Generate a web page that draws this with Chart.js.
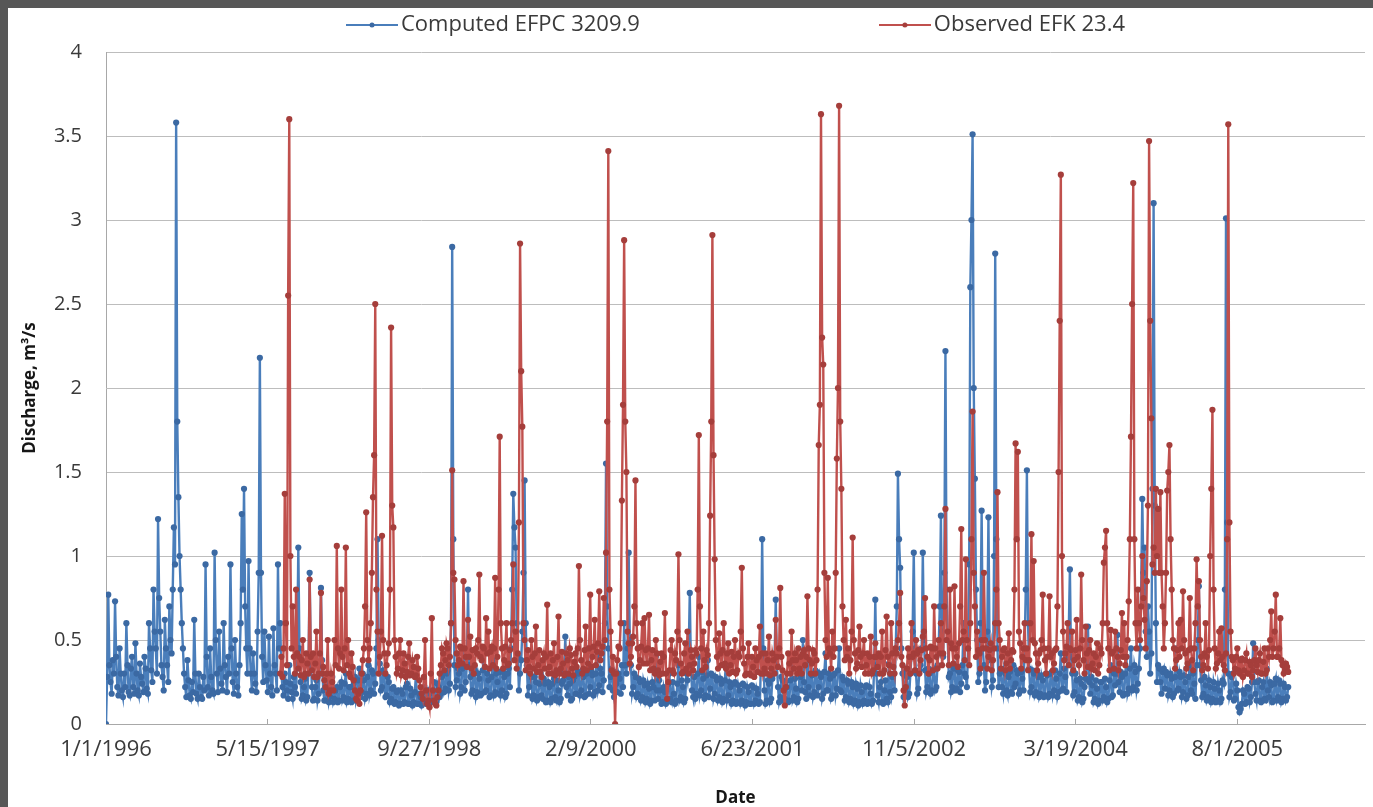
<!DOCTYPE html>
<html>
<head>
<meta charset="utf-8">
<title>Discharge: computed EFPC 3209.9 vs observed EFK 23.4</title>
<script src="https://cdn.jsdelivr.net/npm/chart.js@4/dist/chart.umd.min.js"></script>
<style>
  html, body { margin: 0; padding: 0; width: 1373px; height: 807px; overflow: hidden; background: #575757; }
  #panel { position: absolute; left: 8px; top: 8px; width: 1365px; height: 799px; background: #ffffff; }
  #chart { display: block; }
</style>
</head>
<body>
<div id="panel"><canvas id="chart" width="1365" height="799"></canvas></div>
<script>
// Discharge samples (m3/s). Each year has a weekly array (7-day steps from 1/1/1996)
// and a mid-week array holding the sample taken 3.5 days after each weekly one.
const SERIES_START = '1/1/1996';
const STEP_DAYS = 7;
const COMPUTED_FIRST_WEEK = 0;    // computed record begins on the first sample date
const OBSERVED_FIRST_WEEK = 77;   // observed record begins in late June 1997
const X_MAX_DAY = 3895;

const tickLabels = ['1/1/1996', '5/15/1997', '9/27/1998', '2/9/2000', '6/23/2001', '11/5/2002', '3/19/2004', '8/1/2005'];

// ---- Computed EFPC 3209.9 ----
const computed1996 = [0.00,0.77,0.25,0.38,0.73,0.22,0.45,0.20,0.30,0.60,
  0.19,0.33,0.22,0.48,0.20,0.36,0.24,0.40,0.21,0.60,
  0.32,0.80,0.45,1.22,0.55,0.28,0.62,0.35,0.70,0.42,
  1.17,3.58,1.35,0.80,0.45,0.22,0.38,0.17,0.25,0.62,
  0.18,0.30,0.16,0.28,0.95,0.22,0.45,0.20,1.02,0.30,
  0.55,0.24];
const computedMid1996 = [0.28,0.35,0.18,0.30,0.40,0.17,0.30,0.16,0.22,0.35,
  0.17,0.40,0.18,0.30,0.17,0.28,0.19,0.33,0.18,0.45,
  0.25,0.55,0.30,0.75,0.35,0.20,0.45,0.25,0.50,0.80,
  0.95,1.80,1.00,0.60,0.30,0.16,0.26,0.15,0.19,0.30,
  0.15,0.22,0.15,0.20,0.40,0.17,0.28,0.18,0.50,0.19,
  0.33,0.20];
const computed1997 = [0.60,0.28,0.40,0.95,0.25,0.50,0.22,0.35,1.25,1.40,
  0.45,0.97,0.30,0.42,0.24,0.55,2.18,0.40,0.55,0.26,
  0.52,0.22,0.57,0.30,0.95,0.60,0.22,0.30,0.20,0.35,
  0.19,0.28,0.18,1.05,0.25,0.17,0.27,0.16,0.90,0.22,
  0.15,0.26,0.18,0.81,0.20,0.14,0.24,0.16,0.28,0.15,
  0.22,0.14];
const computedMid1997 = [0.35,0.19,0.30,0.45,0.18,0.30,0.17,0.60,0.80,0.70,
  0.30,0.45,0.20,0.30,0.19,0.90,0.90,0.25,0.35,0.19,
  0.30,0.17,0.35,0.20,0.45,0.30,0.17,0.25,0.15,0.24,
  0.15,0.22,0.45,0.45,0.15,0.22,0.14,0.35,0.40,0.14,
  0.22,0.14,0.35,0.38,0.14,0.21,0.13,0.22,0.13,0.20,
  0.13,0.22];
const computed1998 = [0.25,0.16,0.30,0.15,0.22,0.14,0.28,0.17,0.33,0.19,
  0.26,0.18,0.35,0.20,0.30,0.24,1.10,0.36,0.22,0.30,
  0.17,0.25,0.15,0.22,0.13,0.20,0.12,0.18,0.13,0.24,
  0.12,0.17,0.13,0.30,0.12,0.16,0.13,0.20,0.12,0.18,
  0.14,0.25,0.13,0.22,0.18,0.30,0.21,0.32,0.24,2.84,
  0.35,0.26];
const computedMid1998 = [0.14,0.24,0.13,0.22,0.13,0.24,0.14,0.26,0.16,0.30,
  0.15,0.28,0.17,0.32,0.18,0.45,0.50,0.20,0.32,0.16,
  0.28,0.13,0.21,0.12,0.19,0.11,0.20,0.12,0.22,0.12,
  0.21,0.11,0.19,0.12,0.18,0.11,0.22,0.12,0.20,0.13,
  0.20,0.13,0.24,0.16,0.28,0.19,0.30,0.20,0.60,1.10,
  0.22,0.33];
const computed1999 = [0.30,0.22,0.45,0.25,0.80,0.28,0.20,0.32,0.19,0.27,
  0.18,0.42,0.20,0.26,0.17,0.38,0.19,0.25,0.31,0.20,
  0.28,0.18,0.33,0.45,1.37,1.05,0.40,0.30,0.55,1.45,
  0.35,0.22,0.28,0.17,0.25,0.16,0.36,0.15,0.24,0.14,
  0.22,0.15,0.27,0.14,0.20,0.15,0.26,0.52,0.17,0.24,
  0.15,0.28];
const computedMid1999 = [0.18,0.33,0.20,0.35,0.35,0.18,0.30,0.16,0.30,0.17,
  0.32,0.19,0.30,0.16,0.28,0.17,0.30,0.18,0.17,0.31,
  0.16,0.30,0.22,0.80,1.17,0.60,0.20,0.38,0.90,0.60,
  0.17,0.30,0.15,0.28,0.14,0.24,0.17,0.27,0.13,0.25,
  0.13,0.24,0.16,0.26,0.13,0.24,0.32,0.22,0.28,0.14,
  0.26,0.18];
const computed2000 = [0.18,0.30,0.20,0.28,0.17,0.45,0.22,0.29,0.19,0.40,
  0.23,0.30,0.26,1.55,0.45,0.28,0.20,0.31,0.19,0.27,
  0.35,0.60,0.30,1.02,0.35,0.22,0.28,0.18,0.25,0.16,
  0.23,0.15,0.21,0.14,0.22,0.40,0.15,0.20,0.13,0.19,
  0.14,0.30,0.13,0.18,0.14,0.35,0.16,0.22,0.15,0.26,
  0.78,0.20];
const computedMid2000 = [0.31,0.17,0.32,0.16,0.30,0.18,0.32,0.17,0.30,0.20,
  0.33,0.19,0.60,0.70,0.22,0.33,0.16,0.24,0.30,0.18,
  0.22,0.35,0.45,0.50,0.18,0.30,0.16,0.27,0.14,0.26,
  0.13,0.24,0.12,0.25,0.14,0.20,0.26,0.12,0.22,0.12,
  0.24,0.15,0.25,0.12,0.24,0.14,0.26,0.13,0.30,0.40,
  0.35,0.16];
const computed2001 = [0.28,0.18,0.40,0.20,0.27,0.17,0.38,0.21,0.29,0.18,
  0.26,0.16,0.24,0.15,0.36,0.17,0.22,0.14,0.25,0.13,
  0.20,0.14,0.23,0.13,0.19,0.12,0.22,0.14,0.18,0.13,
  1.10,0.20,0.14,0.24,0.15,0.30,0.74,0.22,0.16,0.26,
  0.15,0.22,0.14,0.35,0.16,0.21,0.15,0.28,0.50,0.19,
  0.40,0.17];
const computedMid2001 = [0.15,0.30,0.17,0.31,0.15,0.29,0.16,0.30,0.15,0.28,
  0.14,0.27,0.13,0.26,0.14,0.25,0.12,0.24,0.12,0.23,
  0.12,0.24,0.11,0.22,0.12,0.23,0.12,0.21,0.12,0.40,
  0.45,0.12,0.26,0.13,0.27,0.40,0.35,0.13,0.28,0.14,
  0.25,0.13,0.26,0.14,0.27,0.13,0.30,0.20,0.25,0.15,
  0.22,0.30];
const computed2002 = [0.29,0.19,0.31,0.22,0.28,0.18,0.42,0.20,0.27,0.17,
  0.30,0.21,0.45,0.19,0.26,0.16,0.24,0.15,0.22,0.14,
  0.21,0.13,0.19,0.14,0.23,0.13,0.18,0.14,0.74,0.17,
  0.22,0.13,0.20,0.15,0.36,0.16,0.30,0.45,1.49,0.93,
  0.30,0.20,0.28,0.18,0.40,1.02,0.30,0.21,0.35,1.02,
  0.32,0.22];
const computedMid2002 = [0.16,0.32,0.17,0.30,0.15,0.31,0.20,0.30,0.15,0.29,
  0.17,0.32,0.20,0.28,0.14,0.26,0.13,0.25,0.12,0.24,
  0.11,0.23,0.12,0.22,0.12,0.22,0.12,0.35,0.30,0.13,
  0.25,0.12,0.26,0.13,0.19,0.28,0.20,0.70,1.10,0.45,
  0.16,0.31,0.16,0.30,0.55,0.45,0.18,0.32,0.45,0.50,
  0.19,0.33];
const computed2003 = [0.30,0.20,0.33,0.22,0.45,1.24,0.40,2.22,0.50,0.30,
  0.22,0.35,0.21,0.31,0.24,0.60,0.28,0.45,2.60,3.51,
  1.46,0.50,0.30,1.27,0.35,0.25,1.23,0.38,0.26,2.80,
  0.45,0.30,0.22,0.33,0.20,0.28,0.19,0.35,0.24,0.30,
  0.20,0.27,0.45,1.51,0.33,0.22,0.30,0.19,0.28,0.18,
  0.26,0.17];
const computedMid2003 = [0.18,0.32,0.20,0.35,0.70,0.55,0.90,0.80,0.28,0.19,
  0.33,0.20,0.32,0.19,0.35,0.30,0.22,0.95,3.00,2.00,
  0.80,0.25,0.60,0.45,0.20,0.55,0.45,0.22,1.00,1.10,
  0.22,0.32,0.18,0.30,0.17,0.31,0.18,0.22,0.32,0.18,
  0.31,0.20,0.80,0.60,0.19,0.32,0.17,0.30,0.16,0.29,
  0.16,0.30];
const computed2004 = [0.29,0.18,0.31,0.20,0.27,0.19,0.42,0.21,0.28,0.40,
  0.92,0.30,0.19,0.26,0.16,0.24,0.15,0.27,0.58,0.18,
  0.23,0.15,0.21,0.14,0.25,0.16,0.22,0.15,0.35,0.17,
  0.23,0.53,0.19,0.28,0.18,0.40,0.21,0.45,0.22,0.31,
  0.24,0.45,1.34,1.05,0.40,0.55,0.42,3.10,0.60,0.35,
  0.25,0.31];
const computedMid2004 = [0.16,0.30,0.17,0.32,0.16,0.30,0.20,0.33,0.19,0.55,
  0.40,0.17,0.30,0.14,0.27,0.13,0.22,0.35,0.25,0.28,
  0.13,0.26,0.12,0.25,0.14,0.27,0.13,0.26,0.16,0.30,
  0.30,0.25,0.31,0.17,0.30,0.18,0.33,0.20,0.35,0.20,
  0.33,0.80,0.90,0.55,0.70,0.30,1.40,1.30,0.25,0.33,
  0.18,0.33];
const computed2005 = [0.21,0.29,0.20,0.27,0.18,0.45,0.21,0.28,0.19,0.25,
  0.17,0.35,0.18,0.24,0.35,0.82,0.26,0.18,0.23,0.16,
  0.22,0.15,0.21,0.14,0.20,0.15,0.24,3.01,0.30,0.19,
  0.30,0.15,0.20,0.07,0.12,0.18,0.13,0.21,0.16,0.48,
  0.18,0.25,0.14,0.22,0.15,0.33,0.16,0.23,0.14,0.27,
  0.16,0.24,0.15,0.22,0.16];
const computedMid2005 = [0.31,0.17,0.30,0.16,0.28,0.20,0.31,0.16,0.29,0.15,
  0.28,0.20,0.30,0.15,0.50,0.35,0.16,0.28,0.14,0.26,
  0.13,0.25,0.13,0.24,0.13,0.26,0.80,1.20,0.16,0.28,
  0.14,0.24,0.10,0.09,0.20,0.12,0.22,0.13,0.25,0.25,
  0.14,0.26,0.13,0.25,0.14,0.20,0.25,0.13,0.24,0.14,
  0.26,0.13,0.24,0.14,0.22];

// ---- Observed EFK 23.4 ----
const observed1997 = [0.30,0.28,1.37,0.35,3.60,0.45,0.40,0.80,0.33,0.29,
  0.50,0.30,0.36,0.86,0.32,0.28,0.55,0.30,0.78,0.34,
  0.22,0.50,0.20,0.25,0.50,1.06,0.33];
const observedMid1997 = [0.40,0.45,0.60,2.55,1.00,0.70,0.30,0.42,0.40,0.38,
  0.28,0.42,0.30,0.40,0.42,0.36,0.28,0.42,0.30,0.26,
  0.30,0.18,0.30,0.20,0.35,0.45,0.42];
const observed1998 = [0.80,0.32,1.05,0.50,0.28,0.34,0.20,0.14,0.12,0.30,
  0.45,1.26,0.38,0.60,1.35,2.50,0.55,0.40,1.12,0.42,
  0.35,0.48,2.36,1.17,0.40,0.33,0.50,0.32,0.36,0.31,
  0.48,0.30,0.34,0.29,0.33,0.22,0.15,0.50,0.12,0.10,
  0.63,0.14,0.11,0.20,0.35,0.42,0.38,0.45,0.40,1.51,
  0.86,0.42];
const observedMid1998 = [0.40,0.45,0.35,0.30,0.42,0.26,0.15,0.18,0.20,0.38,
  0.70,0.50,0.45,0.90,1.60,0.80,0.30,0.55,0.50,0.30,
  0.42,0.80,1.30,0.50,0.30,0.42,0.29,0.42,0.28,0.40,
  0.29,0.38,0.28,0.40,0.26,0.18,0.28,0.20,0.14,0.30,
  0.20,0.12,0.16,0.30,0.45,0.32,0.48,0.35,0.60,0.90,
  0.50,0.35];
const observed1999 = [0.38,0.45,0.85,0.40,0.62,0.52,0.44,0.35,0.42,0.89,
  0.38,0.45,0.63,0.55,0.43,0.35,0.87,0.40,1.71,0.45,
  0.38,0.60,0.36,0.50,0.95,0.55,0.42,2.86,1.77,0.50,
  0.38,0.34,0.50,0.33,0.58,0.35,0.31,0.38,0.33,0.71,
  0.34,0.30,0.48,0.32,0.64,0.33,0.36,0.30,0.38,0.45,
  0.33,0.37];
const observedMid1999 = [0.46,0.36,0.45,0.34,0.40,0.33,0.30,0.45,0.50,0.40,
  0.46,0.34,0.42,0.33,0.46,0.45,0.33,0.80,0.60,0.33,
  0.46,0.35,0.44,0.60,0.38,0.33,1.20,2.10,0.60,0.32,
  0.44,0.30,0.40,0.42,0.31,0.44,0.28,0.42,0.40,0.30,
  0.42,0.38,0.29,0.40,0.30,0.43,0.29,0.42,0.30,0.41,
  0.29,0.42];
const observed2000 = [0.34,0.94,0.38,0.33,0.58,0.36,0.77,0.40,0.62,0.43,
  0.79,0.42,0.75,1.02,3.41,0.55,0.40,0.00,0.38,0.45,
  1.33,2.88,1.50,0.48,0.40,0.52,1.45,0.45,0.38,0.60,
  0.63,0.36,0.65,0.38,0.33,0.50,0.32,0.37,0.30,0.66,
  0.15,0.32,0.50,0.30,0.38,1.01,0.36,0.31,0.48,0.55,
  0.35,0.40];
const observedMid2000 = [0.45,0.50,0.30,0.44,0.32,0.45,0.34,0.46,0.35,0.48,
  0.38,0.46,0.50,1.80,0.80,0.32,0.30,0.30,0.46,0.60,
  1.90,1.80,0.55,0.36,0.48,0.70,0.60,0.34,0.46,0.36,
  0.44,0.45,0.32,0.44,0.30,0.42,0.29,0.42,0.40,0.30,
  0.25,0.44,0.32,0.42,0.55,0.50,0.30,0.42,0.33,0.30,
  0.44,0.32];
const observed2001 = [0.36,0.42,1.72,0.45,0.55,0.34,0.41,1.24,2.91,0.98,
  0.40,0.54,0.35,0.60,0.33,0.48,0.35,0.31,0.50,0.32,
  0.40,0.93,0.36,0.30,0.48,0.29,0.34,0.45,0.31,0.58,
  0.42,0.33,0.30,0.52,0.33,0.38,0.62,0.34,0.81,0.32,
  0.11,0.30,0.36,0.55,0.33,0.38,0.45,0.40,0.42,0.35,
  0.76,0.38];
const observedMid2001 = [0.44,0.80,0.70,0.32,0.38,0.44,0.60,1.80,1.60,0.50,
  0.33,0.42,0.44,0.36,0.42,0.30,0.43,0.40,0.30,0.42,
  0.55,0.45,0.29,0.40,0.30,0.40,0.28,0.38,0.40,0.30,
  0.30,0.42,0.38,0.29,0.42,0.30,0.40,0.45,0.40,0.20,
  0.22,0.42,0.30,0.38,0.42,0.30,0.33,0.30,0.44,0.40,
  0.45,0.30];
const observed2002 = [0.36,0.42,0.38,1.66,3.63,2.14,0.50,0.87,0.42,0.55,
  0.45,1.58,3.68,1.40,0.50,0.62,0.45,0.38,1.11,0.42,
  0.36,0.58,0.34,0.50,0.35,0.30,0.52,0.32,0.48,0.34,
  0.30,0.55,0.32,0.64,0.35,0.60,0.34,0.45,0.50,0.78,
  0.35,0.11,0.33,0.40,0.60,0.42,0.50,0.44,0.38,0.52,
  0.75,0.40];
const observedMid2002 = [0.44,0.30,0.80,1.90,2.30,0.90,0.40,0.45,0.33,0.40,
  0.90,2.00,1.80,0.70,0.38,0.40,0.30,0.55,0.50,0.33,
  0.44,0.40,0.42,0.30,0.42,0.40,0.30,0.40,0.40,0.42,
  0.40,0.30,0.44,0.40,0.30,0.42,0.30,0.42,0.60,0.40,
  0.20,0.22,0.45,0.30,0.40,0.32,0.42,0.30,0.44,0.55,
  0.45,0.30];
const observed2003 = [0.38,0.45,0.70,0.40,0.50,0.60,0.42,1.28,0.55,0.80,
  0.45,0.82,0.40,0.48,1.16,0.55,0.98,0.45,0.60,1.86,
  0.70,0.55,0.42,0.50,0.90,0.45,0.40,0.48,0.38,0.60,
  1.38,0.50,0.40,0.45,0.36,0.54,0.38,0.43,1.67,1.62,
  0.48,0.40,0.60,0.45,0.38,1.13,0.97,0.42,0.36,0.44,
  0.77,0.38];
const observedMid2003 = [0.46,0.32,0.45,0.33,0.42,0.35,0.70,0.50,0.35,0.48,
  0.36,0.45,0.34,0.70,0.50,0.38,0.50,0.35,1.10,0.90,
  0.40,0.44,0.33,0.45,0.50,0.33,0.44,0.32,0.45,0.80,
  0.60,0.33,0.44,0.32,0.42,0.33,0.44,0.80,1.10,0.55,
  0.33,0.45,0.38,0.32,0.60,0.50,0.48,0.32,0.42,0.50,
  0.45,0.30];
const observed2004 = [0.40,0.76,0.42,0.36,0.45,1.50,3.27,0.55,0.42,0.60,
  0.45,0.55,0.38,0.62,0.35,0.89,0.38,0.58,0.34,0.50,
  0.36,0.32,0.48,0.35,0.42,0.96,1.15,0.45,0.56,0.43,
  0.55,0.40,0.36,0.66,0.60,0.40,0.73,1.71,3.22,0.60,
  0.80,0.50,1.00,0.62,0.85,3.47,1.82,1.05,1.40,1.28,
  1.38,0.70];
const observedMid2004 = [0.45,0.40,0.32,0.44,0.70,2.40,1.00,0.38,0.46,0.35,
  0.44,0.32,0.44,0.40,0.45,0.50,0.30,0.42,0.44,0.33,
  0.42,0.40,0.30,0.45,0.60,1.05,0.60,0.32,0.42,0.33,
  0.45,0.32,0.44,0.40,0.35,0.50,1.10,2.50,1.10,0.45,
  0.60,0.70,0.75,0.45,1.30,2.40,0.95,0.90,1.00,0.90,
  0.90,0.45];
const observed2005 = [0.60,1.39,1.66,0.80,0.45,0.38,0.60,0.62,0.79,0.42,
  0.36,0.75,0.38,0.45,0.98,0.85,0.40,0.35,0.60,0.33,
  1.00,1.87,0.45,0.36,0.55,0.57,0.35,0.42,3.57,0.55,
  0.38,0.33,0.45,0.30,0.39,0.32,0.42,0.30,0.35,0.32,
  0.45,0.31,0.42,0.30,0.45,0.32,0.40,0.67,0.45,0.77,
  0.40,0.63,0.35,0.32,0.34];
const observedMid2005 = [0.90,1.50,1.10,0.50,0.33,0.44,0.40,0.45,0.50,0.33,
  0.44,0.45,0.32,0.60,0.70,0.50,0.32,0.42,0.40,0.44,
  1.40,0.80,0.33,0.42,0.38,0.40,0.32,1.10,1.20,0.40,
  0.30,0.40,0.32,0.38,0.28,0.38,0.30,0.37,0.28,0.38,
  0.35,0.38,0.30,0.37,0.30,0.45,0.50,0.40,0.55,0.40,
  0.45,0.38,0.30,0.36,0.31];

// ---- styling ----
const FONT = "'Open Sans', 'Liberation Sans', sans-serif";
const TEXT_COLOR = '#3a3a3a';
const TITLE_COLOR = '#161616';
const GRID_COLOR = '#bdbdbd';
const AXIS_COLOR = '#a8a8a8';
const BLUE = '#4a7ebb';
const BLUE_MARK = '#3b69a3';
const RED = '#c0504d';
const RED_MARK = '#a53e3b';
const LEGEND_FONT_SIZE = 22;
const LEGEND_TEXT_Y = 17;     // vertical centre of the legend row
const LEGEND_SHIFT = 53;      // legend row sits right of the canvas centre
const LEGEND_GAP = 247;

function dayNumber(mdy) {
  const [m, d, y] = mdy.split('/').map(Number);
  const [m0, d0, y0] = SERIES_START.split('/').map(Number);
  return Math.round((Date.UTC(y, m - 1, d) - Date.UTC(y0, m0 - 1, d0)) / 86400000);
}
const tickDays = tickLabels.map(dayNumber);

// weekly and mid-week samples in date order
const inDateOrder = (weekly, midweek) => weekly.flatMap((v, k) => [v, midweek[k]]);

const computedFlow = [].concat(
  inDateOrder(computed1996, computedMid1996), inDateOrder(computed1997, computedMid1997),
  inDateOrder(computed1998, computedMid1998), inDateOrder(computed1999, computedMid1999),
  inDateOrder(computed2000, computedMid2000), inDateOrder(computed2001, computedMid2001),
  inDateOrder(computed2002, computedMid2002), inDateOrder(computed2003, computedMid2003),
  inDateOrder(computed2004, computedMid2004), inDateOrder(computed2005, computedMid2005));
const observedFlow = [].concat(
  inDateOrder(observed1997, observedMid1997), inDateOrder(observed1998, observedMid1998),
  inDateOrder(observed1999, observedMid1999), inDateOrder(observed2000, observedMid2000),
  inDateOrder(observed2001, observedMid2001), inDateOrder(observed2002, observedMid2002),
  inDateOrder(observed2003, observedMid2003), inDateOrder(observed2004, observedMid2004),
  inDateOrder(observed2005, observedMid2005));

const toPoints = (values, firstWeek) =>
  values.map((v, k) => ({ x: firstWeek * STEP_DAYS + k * STEP_DAYS / 2, y: v }));

// Legend symbol: short line with a marker in the middle
function legendIcon(lineColor, markColor) {
  const c = document.createElement('canvas');
  c.width = 52; c.height = 8;
  const g = c.getContext('2d');
  g.strokeStyle = lineColor; g.lineWidth = 2;
  g.beginPath(); g.moveTo(0, 4); g.lineTo(52, 4); g.stroke();
  g.fillStyle = markColor;
  g.beginPath(); g.arc(26, 4, 2.5, 0, Math.PI * 2); g.fill();
  return c;
}
const legendIcons = [legendIcon(BLUE, BLUE_MARK), legendIcon(RED, RED_MARK)];

// Places the legend row: horizontal offset and vertical centre
const legendPlacement = {
  id: 'legendPlacement',
  afterLayout(chart) {
    const lg = chart.legend;
    if (!lg) return;
    lg.left += LEGEND_SHIFT;
    lg.right += LEGEND_SHIFT;
    lg.top = LEGEND_TEXT_Y - LEGEND_GAP - LEGEND_FONT_SIZE / 2;
  }
};

const seriesStyle = (line, mark) => ({
  borderColor: line,
  backgroundColor: line,
  borderWidth: 2.4,
  pointRadius: 3.1,
  pointBackgroundColor: mark,
  pointBorderColor: mark,
  pointBorderWidth: 0,
  tension: 0
});

new Chart(document.getElementById('chart'), {
  type: 'line',
  data: {
    datasets: [
      Object.assign({ label: 'Computed EFPC 3209.9', data: toPoints(computedFlow, COMPUTED_FIRST_WEEK), order: 2 }, seriesStyle(BLUE, BLUE_MARK)),
      Object.assign({ label: 'Observed EFK 23.4', data: toPoints(observedFlow, OBSERVED_FIRST_WEEK), order: 1 }, seriesStyle(RED, RED_MARK))
    ]
  },
  options: {
    responsive: false,
    animation: false,
    devicePixelRatio: 1,
    layout: { padding: { left: 0, right: 8, top: 0, bottom: 0 } },
    plugins: {
      tooltip: { enabled: false },
      legend: {
        position: 'top',
        align: 'center',
        maxHeight: 44,
        labels: {
          usePointStyle: true,
          pointStyleWidth: 36,
          padding: LEGEND_GAP,
          color: TEXT_COLOR,
          font: { family: FONT, size: LEGEND_FONT_SIZE },
          generateLabels(chart) {
            return chart.data.datasets.map((ds, i) => ({
              text: ds.label,
              fillStyle: ds.borderColor,
              strokeStyle: ds.borderColor,
              fontColor: TEXT_COLOR,
              lineWidth: 0,
              pointStyle: legendIcons[i],
              hidden: false,
              datasetIndex: i
            }));
          }
        }
      }
    },
    scales: {
      x: {
        type: 'linear',
        min: 0,
        max: X_MAX_DAY,
        afterBuildTicks(scale) { scale.ticks = tickDays.map(v => ({ value: v })); },
        afterFit(scale) { scale.height = 83; },
        ticks: {
          autoSkip: false,
          maxRotation: 0,
          padding: 18,
          color: TEXT_COLOR,
          font: { family: FONT, size: 22 },
          callback: (value, index) => tickLabels[index]
        },
        grid: { drawOnChartArea: false, drawTicks: true, tickLength: -5, color: AXIS_COLOR, tickColor: AXIS_COLOR },
        border: { display: true, color: AXIS_COLOR, width: 1 },
        title: {
          display: true,
          text: 'Date',
          color: TITLE_COLOR,
          font: { family: FONT, size: 17, weight: 'bold', lineHeight: 1 },
          padding: { top: 0, bottom: 0 }
        }
      },
      y: {
        min: 0,
        max: 4,
        afterFit(scale) { scale.width = 98; },
        ticks: {
          stepSize: 0.5,
          padding: 24,
          color: TEXT_COLOR,
          font: { family: FONT, size: 20 },
          callback: value => String(value)
        },
        grid: { color: GRID_COLOR, drawTicks: false, lineWidth: 1 },
        border: { display: true, color: AXIS_COLOR, width: 1 },
        title: {
          display: true,
          text: 'Discharge, m\u00b3/s',
          color: TITLE_COLOR,
          font: { family: FONT, size: 17, weight: 'bold', lineHeight: 1 },
          padding: { top: 14, bottom: 0 }
        }
      }
    }
  },
  plugins: [legendPlacement]
});
</script>
</body>
</html>
